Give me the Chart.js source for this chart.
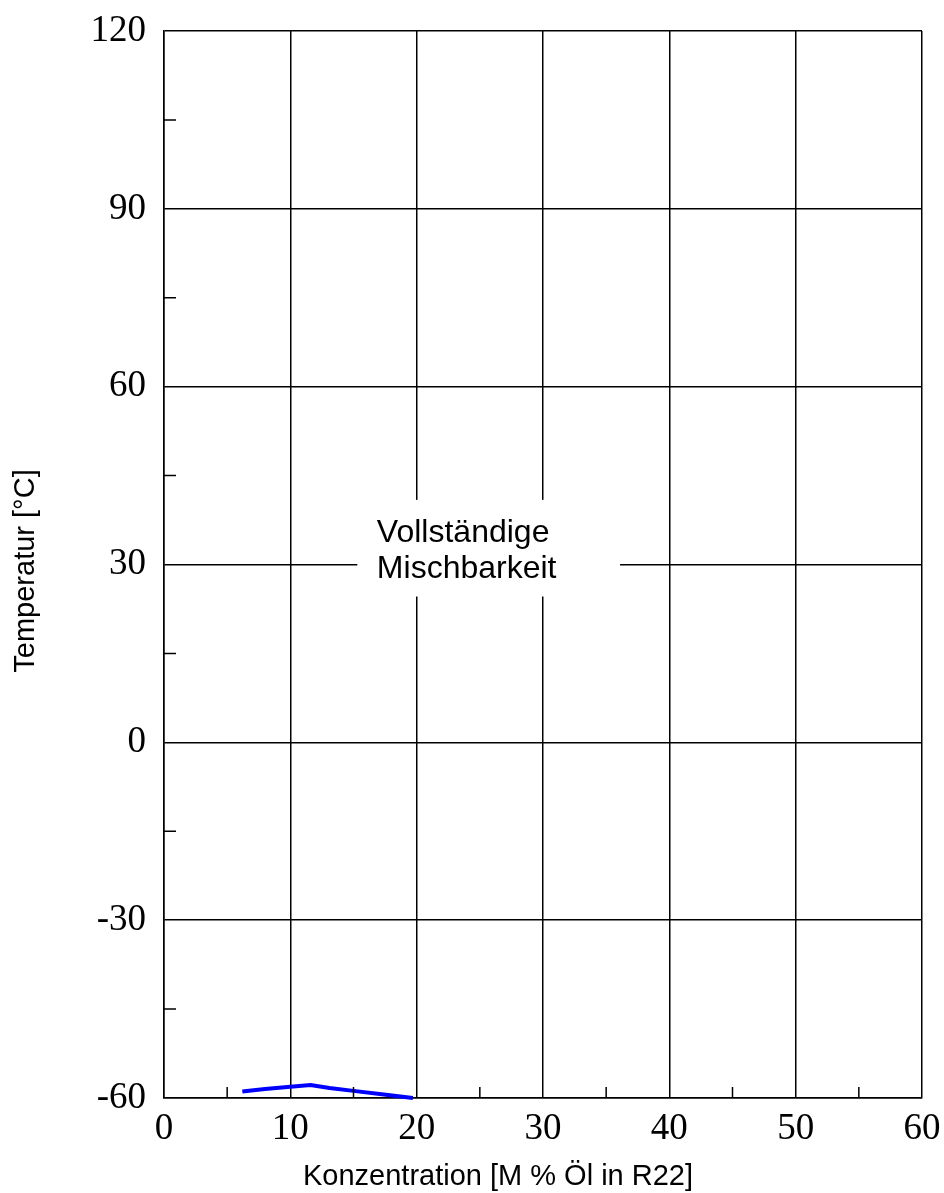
<!DOCTYPE html>
<html>
<head>
<meta charset="utf-8">
<script src="https://cdn.jsdelivr.net/npm/chart.js@4/dist/chart.umd.min.js"></script>
<style>
  body { margin: 0; background: #fff; }
  #wrap { width: 944px; height: 1193px; }
</style>
</head>
<body>
<div id="wrap"><canvas id="chart"></canvas></div>
<script>
// concentration [M % oil] and temperature [°C]
var concX = [6.2, 8.0, 10.0, 11.6, 13.1, 15.0, 17.4, 19.7];
var tempY = [-58.9, -58.5, -58.1, -57.8, -58.3, -58.8, -59.4, -60.0];

var xTicks = [0, 10, 20, 30, 40, 50, 60];
var yTicks = [-60, -30, 0, 30, 60, 90, 120];

var xTitle = "Konzentration [M % Öl in R22]";
var yTitle = "Temperatur [°C]";
var noteLines = ["Vollständige", "Mischbarkeit"];

var serif = '"Liberation Serif", "Times New Roman", serif';
var sans = '"Liberation Sans", Arial, sans-serif';

// white label box over the grid + the label itself
var notePlugin = {
  id: 'note',
  beforeDatasetsDraw: function (chart) {
    var ctx = chart.ctx, xs = chart.scales.x, ys = chart.scales.y;
    var x1 = xs.getPixelForValue(15.3), x2 = xs.getPixelForValue(36.1);
    var y1 = ys.getPixelForValue(40.9), y2 = ys.getPixelForValue(24.6);
    ctx.save();
    ctx.fillStyle = '#fff';
    ctx.fillRect(x1, y1, x2 - x1, y2 - y1);
    ctx.fillStyle = '#000';
    ctx.font = '32px ' + sans;
    ctx.textAlign = 'left';
    ctx.textBaseline = 'alphabetic';
    var tx = xs.getPixelForValue(16.85);
    ctx.fillText(noteLines[0], tx, ys.getPixelForValue(33.8));
    ctx.fillText(noteLines[1], tx, ys.getPixelForValue(27.7));
    ctx.restore();
  },
  afterDraw: function (chart) {
    var ctx = chart.ctx, xs = chart.scales.x, ys = chart.scales.y;
    var a = chart.chartArea;
    ctx.save();
    // minor tick marks inside the frame
    ctx.strokeStyle = '#000';
    ctx.lineWidth = 1.5;
    ctx.beginPath();
    xs.ticks.forEach(function (t) {
      if (t.value % 10 !== 0) {
        var px = xs.getPixelForValue(t.value);
        ctx.moveTo(px, a.bottom);
        ctx.lineTo(px, a.bottom - 11);
      }
    });
    ys.ticks.forEach(function (t) {
      if (t.value % 30 !== 0) {
        var py = ys.getPixelForValue(t.value);
        ctx.moveTo(a.left, py);
        ctx.lineTo(a.left + 12, py);
      }
    });
    ctx.stroke();
    // axis titles
    ctx.fillStyle = '#000';
    ctx.font = '29px ' + sans;
    ctx.textAlign = 'center';
    ctx.textBaseline = 'middle';
    ctx.fillText(xTitle, 498, 1177);
    ctx.translate(26, 571);
    ctx.rotate(-Math.PI / 2);
    ctx.fillText(yTitle, 0, 0);
    ctx.restore();
  }
};

function noPad(s) {
  s.paddingTop = 0;
  s.paddingBottom = 0;
  s.paddingLeft = 0;
  s.paddingRight = 0;
}

new Chart(document.getElementById("chart"), {
  type: 'scatter',
  data: {
    datasets: [
      {
        label: "R22",
        data: concX.map(function (x, i) { return { x: x, y: tempY[i] }; }),
        showLine: true,
        borderColor: '#0000ff',
        borderWidth: 4,
        pointRadius: 0,
        clip: false
      }
    ]
  },
  options: {
    responsive: true,
    maintainAspectRatio: false,
    animation: false,
    layout: { padding: { top: 31, right: 22, left: 0, bottom: 0 } },
    plugins: {
      legend: { display: false },
      tooltip: { enabled: false }
    },
    scales: {
      x: {
        type: 'linear',
        min: 0,
        max: 60,
        afterFit: function (s) { s.height = 95; noPad(s); },
        border: { color: '#000', width: 1.5 },
        grid: {
          drawTicks: false,
          lineWidth: 1.5,
          color: function (c) { return c.tick && c.tick.value % 10 === 0 ? '#000' : 'rgba(0,0,0,0)'; }
        },
        ticks: {
          stepSize: 5,
          padding: 9,
          color: '#000',
          font: { family: serif, size: 37 },
          maxRotation: 0,
          autoSkip: false,
          callback: function (v) { return xTicks.indexOf(v) >= 0 ? String(v) : ''; }
        }
      },
      y: {
        type: 'linear',
        min: -60,
        max: 120,
        afterFit: function (s) { s.width = 164; noPad(s); },
        border: { color: '#000', width: 1.5 },
        grid: {
          drawTicks: false,
          lineWidth: 1.5,
          color: function (c) { return c.tick && c.tick.value % 30 === 0 ? '#000' : 'rgba(0,0,0,0)'; }
        },
        ticks: {
          stepSize: 15,
          padding: 18,
          color: '#000',
          font: { family: serif, size: 37 },
          autoSkip: false,
          callback: function (v) { return yTicks.indexOf(v) >= 0 ? String(v) : ''; }
        }
      }
    }
  },
  plugins: [notePlugin]
});
</script>
</body>
</html>
